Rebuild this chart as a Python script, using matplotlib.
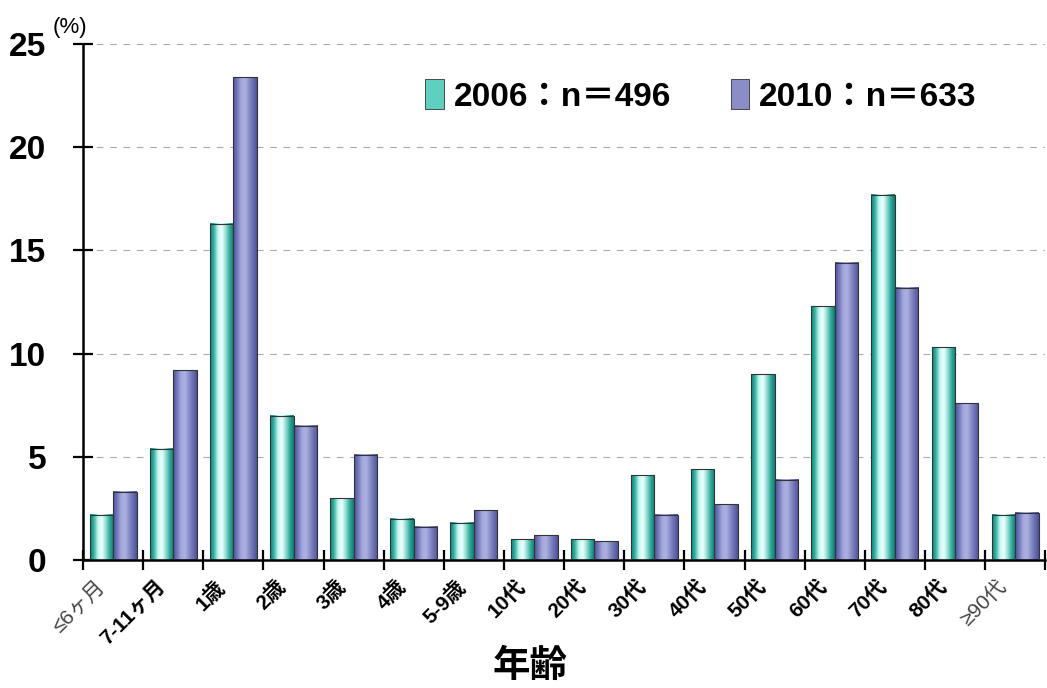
import matplotlib
matplotlib.use("Agg")
import matplotlib.pyplot as plt
import numpy as np
from matplotlib.colors import LinearSegmentedColormap
from matplotlib.patches import Patch

#----Data

ageGroups = ["≤6ヶ月", "7-11ヶ月", "1歳", "2歳", "3歳", "4歳", "5-9歳", "10代",
             "20代", "30代", "40代", "50代", "60代", "70代", "80代", "≥90代"]
pct2006 = [2.2, 5.4, 16.3, 7.0, 3.0, 2.0, 1.8, 1.0, 1.0, 4.1, 4.4, 9.0, 12.3, 17.7, 10.3, 2.2]
pct2010 = [3.3, 9.2, 23.4, 6.5, 5.1, 1.6, 2.4, 1.2, 0.9, 2.2, 2.7, 3.9, 14.4, 13.2, 7.6, 2.3]
labels = ["2006：n＝496", "2010：n＝633"]

FONT = ["Liberation Sans", "Noto Sans CJK JP", "DejaVu Sans"]
plt.rcParams["font.family"] = FONT

# cylinder-like shading for the two series
tealMap = LinearSegmentedColormap.from_list(
    "teal", ["#0e7f72", "#30b5a6", "#c8f7f0", "#f0fffd", "#8fdcd2", "#2aa898", "#0f7d70"])
blueMap = LinearSegmentedColormap.from_list(
    "blue", ["#4f539a", "#7175ba", "#a3a7da", "#aeb2e0", "#8a8ec8", "#6a6eb2", "#4c5096"])


def shadeBars(ax, bars, cmap):
    """ paint each bar with a horizontal gradient """
    grad = np.linspace(0, 1, 256).reshape(1, -1)
    for b in bars:
        x0 = b.get_x()
        ax.imshow(grad, extent=[x0, x0 + b.get_width(), 0, b.get_height()],
                  aspect="auto", cmap=cmap, zorder=2, interpolation="bicubic")
# end shadeBars


def createPlot():
    fig = plt.figure(figsize=(10.47, 6.88), dpi=100)
    ax = fig.add_axes([0.0793, 0.186, 0.919, 0.750])

    x = np.arange(len(ageGroups))
    w = 0.39
    b1 = ax.bar(x - w / 2, pct2006, w, facecolor="none", edgecolor="#333333", lw=0.8, zorder=3)
    b2 = ax.bar(x + w / 2, pct2010, w, facecolor="none", edgecolor="#333333", lw=0.8, zorder=3)
    shadeBars(ax, b1, tealMap)
    shadeBars(ax, b2, blueMap)

    ax.set_xlim(-0.5, len(ageGroups) - 0.5)
    ax.set_ylim(0, 25)

    # y axis
    ax.set_yticks([0, 5, 10, 15, 20, 25])
    ax.set_yticklabels(["0", "5", "10", "15", "20", "25"], fontsize=24, fontweight="bold")
    ax.yaxis.grid(True, linestyle=(0, (6, 6)), color="#aaaaaa", lw=0.8, zorder=0)
    ax.tick_params(axis="y", direction="inout", length=15, width=1.6, pad=19)

    # x axis: marks at category borders, labels slightly right of them
    ax.set_xticks(np.arange(len(ageGroups) + 1) - 0.5, minor=True)
    ax.set_xticks(x - 0.3)
    ax.set_xticklabels(ageGroups, rotation=45, ha="right", rotation_mode="anchor", fontsize=15)
    for t, name in zip(ax.get_xticklabels(), ageGroups):
        if name[0] in "≤≥":
            t.set_color("#444444")
        else:
            t.set_fontweight("bold")
    ax.tick_params(axis="x", which="major", length=0, pad=12)
    ax.tick_params(axis="x", which="minor", direction="inout", length=14, width=1.6)

    for s in ["top", "right"]:
        ax.spines[s].set_visible(False)
    ax.spines["left"].set_linewidth(1.8)
    ax.spines["bottom"].set_linewidth(1.8)

    fig.text(70 / 1047, 1 - 38 / 688, "(%)", fontsize=16, ha="center", va="bottom")
    ax.set_xlabel("年齢", fontsize=27, fontweight="bold")
    ax.xaxis.set_label_coords(0.465, -0.172)

    handles = [Patch(facecolor="#5fcfc0", edgecolor="#333333", lw=0.6),
               Patch(facecolor="#8a8ec8", edgecolor="#333333", lw=0.6)]
    ax.legend(handles, labels, loc="upper right", bbox_to_anchor=(0.96, 0.99), ncol=2,
              frameon=False, handlelength=0.55, handleheight=1.0, handletextpad=0.3,
              columnspacing=1.8, prop={"size": 24, "weight": "bold"})

    fig.savefig("out.png", dpi=100)
# end createPlot


if __name__ == "__main__":
    createPlot()
